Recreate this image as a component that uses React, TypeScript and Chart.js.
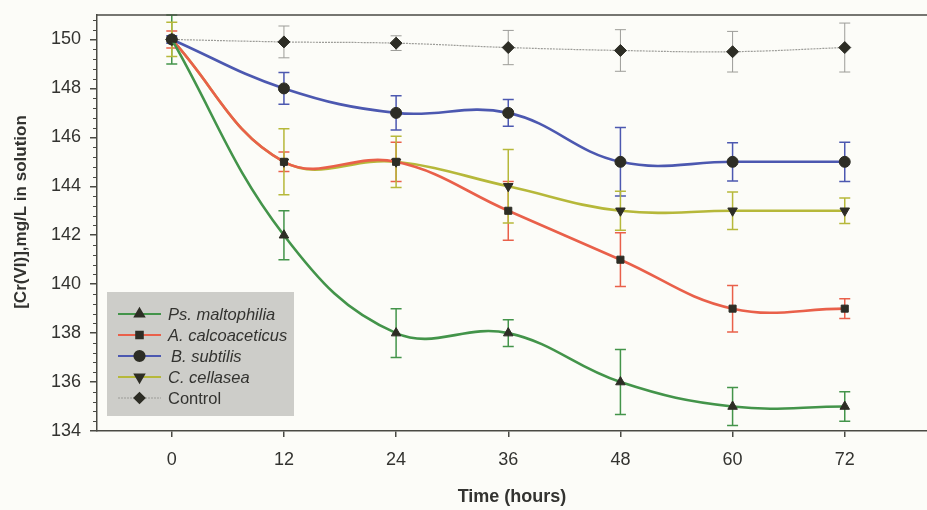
import React, { useEffect, useRef } from 'react';
import { Chart, registerables } from 'chart.js';
import { drawPoint } from 'chart.js/helpers';

Chart.register(...registerables);

// ---- data ----
const hours = [0, 12, 24, 36, 48, 60, 72];

const psMaltophilia = [150, 142, 138, 138, 136, 135, 135];
const psMaltophiliaErr = [1.0, 1.0, 1.0, 0.55, 1.33, 0.78, 0.6];

const aCalcoaceticus = [150, 145, 145, 143, 141, 139, 139];
const aCalcoaceticusErr = [0.35, 0.4, 0.8, 1.2, 1.1, 0.95, 0.4];

const bSubtilis = [150, 148, 147, 147, 145, 145, 145];
const bSubtilisErr = [0.15, 0.65, 0.7, 0.55, 1.4, 0.78, 0.8];

const cCellasea = [150, 145, 145, 144, 143, 143, 143];
const cCellaseaErr = [0.7, 1.35, 1.05, 1.5, 0.8, 0.77, 0.52];

const control = [150, 149.9, 149.85, 149.67, 149.55, 149.5, 149.67];
const controlErr = [0, 0.65, 0.3, 0.7, 0.85, 0.83, 1.0];

const seriesNames = ['Ps. maltophilia', 'A. calcoaceticus', 'B. subtilis', 'C. cellasea', 'Control'];
const xTickValues = [0, 12, 24, 36, 48, 60, 72];
const yTickValues = [134, 136, 138, 140, 142, 144, 146, 148, 150];

const xTitle = 'Time (hours)';
const yTitle = '[Cr(VI)],mg/L in solution';

// ---- styles ----
const AXIS = '#4a4a44';
const TEXT = '#333330';
const MARK = '#2d2d25';

const toPts = (vals: number[]) => vals.map((v, i) => ({ x: hours[i], y: v }));

const errorBarPlugin = {
  id: 'errorBars',
  beforeDatasetsDraw(chart: any) {
    const { ctx, scales } = chart;
    const x = scales.x, y = scales.y;
    ctx.save();
    chart.data.datasets.forEach((ds: any) => {
      ctx.strokeStyle = ds.errColor;
      ctx.lineWidth = ds.errWidth;
      ds.data.forEach((p: any, i: number) => {
        const e = ds.errors[i];
        if (!e) return;
        const px = x.getPixelForValue(p.x);
        const top = y.getPixelForValue(p.y + e);
        const bot = y.getPixelForValue(p.y - e);
        ctx.beginPath();
        ctx.moveTo(px, top);
        ctx.lineTo(px, bot);
        ctx.moveTo(px - 5.5, top);
        ctx.lineTo(px + 5.5, top);
        ctx.moveTo(px - 5.5, bot);
        ctx.lineTo(px + 5.5, bot);
        ctx.stroke();
      });
    });
    ctx.restore();
  },
};

const decorPlugin = {
  id: 'decor',
  afterDraw(chart: any) {
    const { ctx, chartArea, scales } = chart;
    const y = scales.y;
    ctx.save();
    // top border
    ctx.strokeStyle = AXIS;
    ctx.lineWidth = 1.5;
    ctx.beginPath();
    ctx.moveTo(chartArea.left, chartArea.top);
    ctx.lineTo(chart.width, chartArea.top);
    ctx.stroke();
    // minor y ticks
    ctx.lineWidth = 1;
    ctx.beginPath();
    for (let k = 0; k <= 42; k++) {
      const v = 134 + k * 0.4;
      if (v > y.max) break;
      if (Math.abs(v / 2 - Math.round(v / 2)) < 1e-6) continue;
      const py = Math.round(y.getPixelForValue(v)) + 0.5;
      ctx.moveTo(chartArea.left - 4, py);
      ctx.lineTo(chartArea.left, py);
    }
    ctx.stroke();

    // y title
    ctx.fillStyle = TEXT;
    ctx.font = 'bold 17px "Liberation Sans", Arial, sans-serif';
    ctx.textAlign = 'center';
    ctx.textBaseline = 'middle';
    ctx.translate(21, 212);
    ctx.rotate(-Math.PI / 2);
    ctx.fillText(yTitle, 0, 0);
    ctx.restore();

    // legend
    ctx.save();
    const bx = 107, by = 292, bw = 187, bh = 124;
    ctx.fillStyle = '#cdcdc9';
    ctx.fillRect(bx, by, bw, bh);
    const rows = [314, 335, 356, 377, 398];
    chart.data.datasets.forEach((ds: any, i: number) => {
      const ry = rows[i];
      ctx.strokeStyle = ds.borderColor;
      ctx.lineWidth = i === 4 ? 1.2 : 2.2;
      ctx.setLineDash(i === 4 ? [2, 1] : []);
      ctx.beginPath();
      ctx.moveTo(118, ry);
      ctx.lineTo(161, ry);
      ctx.stroke();
      ctx.setLineDash([]);
      ctx.fillStyle = MARK;
      ctx.strokeStyle = MARK;
      drawPoint(ctx, { pointStyle: ds.pointStyle, radius: ds.pointRadius - 0.5, rotation: ds.pointRotation || 0, borderWidth: 1 }, 139.5, ry);
      ctx.fillStyle = TEXT;
      ctx.font = (i === 4 ? '' : 'italic ') + '16.5px "Liberation Sans", Arial, sans-serif';
      ctx.textAlign = 'left';
      ctx.textBaseline = 'middle';
      ctx.fillText(seriesNames[i], i === 2 ? 171 : 168, ry + 1);
    });
    ctx.restore();
  },
};

function makeDataset(label: string, vals: number[], errs: number[], color: string, style: string, radius: number, rotation = 0, extra: any = {}) {
  return {
    label,
    data: toPts(vals),
    errors: errs,
    errColor: color,
    errWidth: 1.5,
    borderColor: color,
    backgroundColor: MARK,
    borderWidth: 2.6,
    tension: 0.4,
    pointStyle: style,
    pointRadius: radius,
    pointRotation: rotation,
    pointBackgroundColor: MARK,
    pointBorderColor: MARK,
    pointBorderWidth: 1,
    ...extra,
  };
}

export default function App() {
  const ref = useRef<HTMLCanvasElement | null>(null);
  useEffect(() => {
    document.body.style.margin = '0';
    document.body.style.background = '#fcfcf8';
    const canvas = ref.current!;
    const chart = new Chart(canvas, {
      type: 'line',
      data: {
        datasets: [
          makeDataset(seriesNames[0], psMaltophilia, psMaltophiliaErr, '#43944a', 'triangle', 5.5),
          makeDataset(seriesNames[1], aCalcoaceticus, aCalcoaceticusErr, '#e9604a', 'rect', 5),
          makeDataset(seriesNames[2], bSubtilis, bSubtilisErr, '#4c58b0', 'circle', 5.5),
          makeDataset(seriesNames[3], cCellasea, cCellaseaErr, '#b6b83a', 'triangle', 5.5, 180),
          makeDataset(seriesNames[4], control, controlErr, '#9c9c98', 'rectRot', 6, 0, {
            borderWidth: 1.2,
            borderDash: [2, 1],
            errWidth: 1,
          }),
        ],
      } as any,
      options: {
        animation: false,
        responsive: false,
        maintainAspectRatio: false,
        layout: { autoPadding: false, padding: { top: 15, right: 0, left: 0, bottom: 0 } },
        plugins: {
          legend: { display: false },
          tooltip: { enabled: false },
        },
        scales: {
          x: {
            type: 'linear',
            min: -8,
            max: 80.8,
            afterBuildTicks: (s: any) => {
              s.ticks = xTickValues.map((v) => ({ value: v }));
            },
            afterFit: (s: any) => {
              s.height = 79;
              s.paddingLeft = 0;
              s.paddingRight = 0;
            },
            grid: {
              display: true,
              drawOnChartArea: false,
              drawTicks: true,
              tickLength: 6,
              color: AXIS,
              lineWidth: 1.5,
            },
            border: { display: true, color: AXIS, width: 1.5 },
            ticks: {
              color: TEXT,
              padding: 12,
              maxRotation: 0,
              font: { family: '"Liberation Sans", Arial, sans-serif', size: 18 },
              callback: (v: any) => String(v),
            },
            title: {
              display: true,
              text: xTitle,
              color: TEXT,
              font: { family: '"Liberation Sans", Arial, sans-serif', size: 18, weight: 'bold' },
              padding: { top: 0, bottom: 2 },
            },
          },
          y: {
            type: 'linear',
            min: 134,
            max: 151,
            afterBuildTicks: (s: any) => {
              s.ticks = yTickValues.map((v) => ({ value: v }));
            },
            afterFit: (s: any) => {
              s.width = 97;
              s.paddingTop = 0;
              s.paddingBottom = 0;
            },
            grid: {
              display: true,
              drawOnChartArea: false,
              drawTicks: true,
              tickLength: 7,
              color: AXIS,
              lineWidth: 1.5,
            },
            border: { display: true, color: AXIS, width: 1.5 },
            ticks: {
              color: TEXT,
              padding: 9,
              font: { family: '"Liberation Sans", Arial, sans-serif', size: 18 },
              callback: (v: any) => String(v),
            },
          },
        },
      } as any,
      plugins: [errorBarPlugin, decorPlugin],
    });
    return () => chart.destroy();
  }, []);
  return (
    <div style={{ width: 927, height: 510 }}>
      <canvas ref={ref} width={927} height={510} style={{ display: 'block' }} />
    </div>
  );
}
